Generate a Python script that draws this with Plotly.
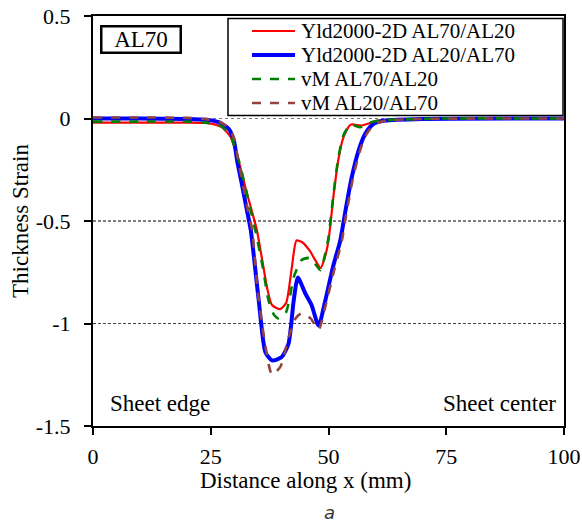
import plotly.graph_objects as go

red_x = [0, 10, 20, 24, 26, 27.4, 29.2, 30.9, 32.4, 33.7, 34.8, 36, 37, 38, 39.7, 41, 42.2, 43.2, 44.5, 46, 47.3, 48.3, 49.2, 50, 51.1, 52.1, 53.2, 54.7, 57, 60.6, 65, 75, 100]
red_y = [-0.02, -0.02, -0.02, -0.022, -0.03, -0.043, -0.09, -0.205, -0.34, -0.45, -0.545, -0.7, -0.83, -0.91, -0.93, -0.9, -0.73, -0.595, -0.605, -0.645, -0.695, -0.73, -0.68, -0.595, -0.37, -0.2, -0.09, -0.03, -0.034, -0.01, -0.005, 0, 0]

blue_x = [0, 10, 20, 24, 26.7, 28.8, 29.9, 30.6, 31.6, 32.7, 33.5, 35.2, 36.6, 38, 40, 41.5, 42.6, 43.5, 45, 46.4, 47.9, 49.3, 51, 52.5, 53.6, 54.9, 56.4, 57.8, 59.5, 62, 70, 100]
blue_y = [0.0, 0.0, -0.002, -0.006, -0.018, -0.05, -0.107, -0.205, -0.32, -0.45, -0.545, -0.89, -1.14, -1.18, -1.165, -1.1, -0.89, -0.775, -0.85, -0.91, -1.01, -0.89, -0.72, -0.595, -0.45, -0.29, -0.155, -0.075, -0.027, -0.01, -0.002, 0]

green_x = [0, 10, 20, 24, 26, 27.4, 29.2, 30.9, 32.4, 33.7, 34.6, 36, 37.3, 38.5, 39.4, 40.9, 41.8, 42.6, 44.3, 46.2, 47.2, 48.3, 49.2, 50, 51.1, 52.1, 53.2, 54.7, 56.7, 58, 60.6, 65, 75, 100]
green_y = [-0.015, -0.015, -0.015, -0.02, -0.028, -0.04, -0.085, -0.2, -0.34, -0.47, -0.56, -0.72, -0.89, -0.96, -0.975, -0.95, -0.87, -0.775, -0.69, -0.68, -0.71, -0.74, -0.67, -0.58, -0.36, -0.19, -0.08, -0.03, -0.043, -0.025, -0.01, -0.005, 0, 0]

brown_x = [0, 10, 20, 24, 26.7, 28.8, 30, 30.8, 31.8, 32.9, 33.8, 35, 36.2, 37.3, 38, 39.8, 41.5, 43, 44.3, 46.2, 47.9, 49.3, 51.2, 52.8, 53.9, 55.2, 56.7, 58.1, 59.8, 62.3, 70, 100]
brown_y = [0.005, 0.005, 0.003, -0.003, -0.015, -0.045, -0.1, -0.2, -0.32, -0.45, -0.545, -0.85, -1.05, -1.2, -1.25, -1.21, -1.07, -0.975, -0.95, -0.975, -1.03, -0.92, -0.74, -0.6, -0.45, -0.29, -0.155, -0.075, -0.027, -0.01, -0.002, 0]

series_names = ["Yld2000-2D AL70/AL20", "Yld2000-2D AL20/AL70", "vM AL70/AL20", "vM AL20/AL70"]
series_x = [red_x, blue_x, green_x, brown_x]
series_y = [red_y, blue_y, green_y, brown_y]
series_colors = ["#ff0000", "#0000ff", "#008000", "#944343"]
series_widths = [2.2, 4, 2.6, 2.6]
series_dash = ["solid", "solid", "dash", "dash"]

x_ticks = [0, 25, 50, 75, 100]
y_ticks = [0.5, 0, -0.5, -1, -1.5]
y_ticktext = ["0.5", "0", "-0.5", "-1", "-1.5"]
grid_levels = [0, -0.5, -1]

FONT = "Liberation Serif, Times New Roman, serif"

fig = go.Figure()
for name, xs, ys, color, width, dash in zip(series_names, series_x, series_y,
                                            series_colors, series_widths, series_dash):
    fig.add_trace(go.Scatter(
        x=xs, y=ys, mode="lines", name=name, showlegend=False,
        line=dict(color=color, width=width, dash=dash, shape="spline", smoothing=0.6),
    ))

for g in grid_levels:
    fig.add_shape(type="line", xref="paper", x0=0, x1=1, yref="y", y0=g, y1=g,
                  line=dict(color="#777777" if g == 0 else ("black" if g == -0.5 else "#444444"),
                            width=1, dash="dot" if g == 0 else "3px,2px"),
                  layer="below")

fig.update_layout(
    width=582, height=526,
    margin=dict(l=93, r=18, t=16, b=100),
    paper_bgcolor="white", plot_bgcolor="white",
    font=dict(family=FONT, size=22, color="black"),
    showlegend=False,
    xaxis=dict(
        range=[0, 100], tickvals=x_ticks, ticktext=[str(v) for v in x_ticks],
        showgrid=False, zeroline=False, showline=True, linecolor="black", linewidth=2,
        mirror=True, ticks="outside", ticklen=7, tickwidth=2, tickcolor="black",
        tickfont=dict(size=22), ticklabelstandoff=3, automargin=False,
    ),
    yaxis=dict(
        range=[-1.5, 0.5], tickvals=y_ticks, ticktext=y_ticktext,
        showgrid=False, zeroline=False, showline=True, linecolor="black", linewidth=2,
        mirror=True, ticks="outside", ticklen=7, tickwidth=2, tickcolor="black",
        tickfont=dict(size=22), ticklabelstandoff=9, automargin=False,
    ),
)

# axis titles
fig.add_annotation(x=0.452, y=-0.134, xref="paper", yref="paper", xanchor="center", yanchor="middle",
                   text="Distance along x (mm)", showarrow=False,
                   font=dict(family=FONT, size=23, color="black"))
fig.add_annotation(x=-0.155, y=0.5, xref="paper", yref="paper", xanchor="center", yanchor="middle",
                   text="Thickness Strain", showarrow=False, textangle=-90,
                   font=dict(family=FONT, size=23, color="black"))

# legend box (drawn manually to match compact row spacing)
leg_x0, leg_x1, leg_y0, leg_y1 = 0.2866, 0.9979, 0.7573, 0.9939
fig.add_shape(type="rect", xref="paper", yref="paper", x0=leg_x0, x1=leg_x1, y0=leg_y0, y1=leg_y1,
              line=dict(color="black", width=1.5), fillcolor="white", layer="above")
leg_rows = [0.9634, 0.9049, 0.8463, 0.7878]
for name, color, width, dash, ry in zip(series_names, series_colors, series_widths, series_dash, leg_rows):
    fig.add_shape(type="line", xref="paper", yref="paper", x0=0.3376, x1=0.4289, y0=ry, y1=ry,
                  line=dict(color=color, width=width, dash=dash), layer="above")
    fig.add_annotation(x=0.4395, y=ry, xref="paper", yref="paper", xanchor="left", yanchor="middle",
                       text=name, showarrow=False, borderpad=0,
                       font=dict(family=FONT, size=21, color="black"))

fig.add_annotation(x=0.0149, y=0.978, xref="paper", yref="paper", xanchor="left", yanchor="top",
                   text="AL70", showarrow=False, font=dict(family=FONT, size=23, color="black"),
                   bordercolor="black", borderwidth=2.5, borderpad=0, width=77, height=24,
                   bgcolor="white")
fig.add_annotation(x=0.0318, y=0.054, xref="paper", yref="paper", xanchor="left", yanchor="middle",
                   text="Sheet edge", showarrow=False, font=dict(family=FONT, size=23, color="black"))
fig.add_annotation(x=0.987, y=0.054, xref="paper", yref="paper", xanchor="right", yanchor="middle",
                   text="Sheet center", showarrow=False, font=dict(family=FONT, size=23, color="black"))
fig.add_annotation(x=0.503, y=-0.212, xref="paper", yref="paper", xanchor="center", yanchor="middle",
                   text="<i>a</i>", showarrow=False,
                   font=dict(family="DejaVu Sans, sans-serif", size=18, color="#333333"))

fig.write_html("out.html")
